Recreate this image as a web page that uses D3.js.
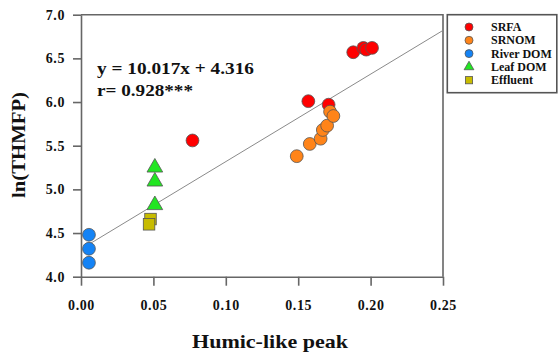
<!DOCTYPE html>
<html>
<head>
<meta charset="utf-8">
<script src="https://cdn.jsdelivr.net/npm/d3@7"></script>
<style>
    body { margin: 0; background: #fff; }
    text { font-family: "Liberation Serif", "Times New Roman", serif; font-weight: bold; fill: #111; }
</style>
</head>
<body>
<script>
const width = 558;
const height = 354;

const margin = {
    "top": 14.7,
    "left": 81,
    "bottom": 77.3,
    "right": 115
}

// data: [humic-like peak, ln(THMFP)]
const srfa = [[0.077, 5.56], [0.157, 6.01], [0.171, 5.97], [0.188, 6.57], [0.195, 6.62], [0.197, 6.60], [0.201, 6.62]];
const srnom = [[0.149, 5.38], [0.158, 5.52], [0.1655, 5.58], [0.167, 5.68], [0.170, 5.73], [0.172, 5.89], [0.1743, 5.84]];
const riverDom = [[0.0055, 4.48], [0.0055, 4.32], [0.0055, 4.16]];
const leafDom = [[0.051, 5.25], [0.051, 5.09], [0.051, 4.82]];
const effluent = [[0.048, 4.66], [0.047, 4.60]];

const xTicks = [0, 0.05, 0.10, 0.15, 0.20, 0.25];
const yTicks = [4.0, 4.5, 5.0, 5.5, 6.0, 6.5, 7.0];

const fitSlope = 10.017;
const fitIntercept = 4.316;
const fitRange = [0.005, 0.25];

const legendNames = ["SRFA", "SRNOM", "River DOM", "Leaf DOM", "Effluent"];
const legendColors = ["#ff0000", "#ff8419", "#1483f5", "#22e622", "#c8bc00"];
const legendShapes = ["circle", "circle", "circle", "triangle", "square"];

const w = width - margin.left - margin.right;
const h = height - margin.top - margin.bottom;

const svg = d3.select("body").append("svg").attr("width", width).attr("height", height);

const x = d3.scaleLinear().domain([0, 0.25]).range([0, w]);
const y = d3.scaleLinear().domain([4, 7]).range([h, 0]);

const g = svg.append("g").attr("transform", `translate(${margin.left},${margin.top})`);

// frame (top + right)
g.append("path")
    .attr("d", `M0,0H${w}V${h}`)
    .attr("fill", "none")
    .attr("stroke", "#666")
    .attr("stroke-width", 1.6);

let xAxis = d3.axisBottom(x).tickValues(xTicks).tickFormat(d3.format(".2f")).tickSize(9).tickSizeOuter(0).tickPadding(14);
let yAxis = d3.axisLeft(y).tickValues(yTicks).tickFormat(d3.format(".1f")).tickSize(8).tickSizeOuter(0).tickPadding(8);

const gx = g.append("g").attr("transform", `translate(0,${h})`).call(xAxis);
const gy = g.append("g").call(yAxis);

[gx, gy].forEach(a => {
    a.attr("font-family", null);
    a.select(".domain").attr("stroke", "#666").attr("stroke-width", 1.6);
    a.selectAll(".tick line").attr("stroke", "#666").attr("stroke-width", 1.6);
    a.selectAll(".tick text")
        .attr("fill", "#111")
        .style("font-family", "'Liberation Serif', 'Times New Roman', serif")
        .style("font-weight", "bold")
        .style("font-size", "14px")
        .style("letter-spacing", "0.6px");
});

// regression line
g.append("line")
    .attr("x1", x(fitRange[0]))
    .attr("y1", y(fitSlope * fitRange[0] + fitIntercept))
    .attr("x2", x(fitRange[1]))
    .attr("y2", y(fitSlope * fitRange[1] + fitIntercept))
    .attr("stroke", "#8a8a8a")
    .attr("stroke-width", 1);

function symbol(sel, shape, color, r) {
    if (shape === "circle") {
        sel.append("circle").attr("r", r);
    } else if (shape === "triangle") {
        sel.append("path").attr("d", d3.symbol(d3.symbolTriangle, r * r * 2.6)());
    } else {
        sel.append("rect").attr("x", -r * 0.9).attr("y", -r * 0.9).attr("width", r * 1.8).attr("height", r * 1.8);
    }
    sel.selectAll("circle,path,rect")
        .attr("fill", color)
        .attr("stroke", "#555")
        .attr("stroke-width", 0.8);
}

const seriesList = [
    [effluent, 4], [leafDom, 3], [riverDom, 2], [srfa, 0], [srnom, 1]
];

seriesList.forEach(([data, i]) => {
    g.append("g")
        .selectAll("g")
        .data(data)
        .join("g")
        .attr("transform", d => `translate(${x(d[0])},${y(d[1])})`)
        .each(function() { symbol(d3.select(this), legendShapes[i], legendColors[i], 6.4); });
});

// equation
g.append("text")
    .attr("x", 16).attr("y", 59.5)
    .attr("textLength", 157).attr("lengthAdjust", "spacingAndGlyphs")
    .style("font-size", "16px")
    .text("y = 10.017x + 4.316");
g.append("text")
    .attr("x", 16).attr("y", 81.5)
    .attr("textLength", 96).attr("lengthAdjust", "spacingAndGlyphs")
    .style("font-size", "16px")
    .text("r= 0.928***");

// axis titles
svg.append("text")
    .attr("x", 270).attr("y", 348)
    .attr("text-anchor", "middle")
    .attr("textLength", 156).attr("lengthAdjust", "spacingAndGlyphs")
    .style("font-size", "19px")
    .text("Humic-like peak");

svg.append("text")
    .attr("transform", "translate(25,145) rotate(-90)")
    .attr("text-anchor", "middle")
    .attr("textLength", 106).attr("lengthAdjust", "spacingAndGlyphs")
    .style("font-size", "19px")
    .text("ln(THMFP)");

// legend
const legend = svg.append("g").attr("transform", "translate(447.3,14.7)");
legend.append("rect")
    .attr("width", 109.5).attr("height", 78)
    .attr("fill", "#fff")
    .attr("stroke", "#555")
    .attr("stroke-width", 1.6);

const rows = legend.selectAll("g.row")
    .data(legendNames)
    .join("g")
    .attr("class", "row")
    .attr("transform", (d, i) => `translate(21.7,${12.3 + i * 13.3})`);

rows.each(function(d, i) { symbol(d3.select(this), legendShapes[i], legendColors[i], 4); });

rows.append("text")
    .attr("x", 22)
    .attr("y", 4)
    .style("font-size", "12px")
    .text(d => d);
</script>
</body>
</html>
